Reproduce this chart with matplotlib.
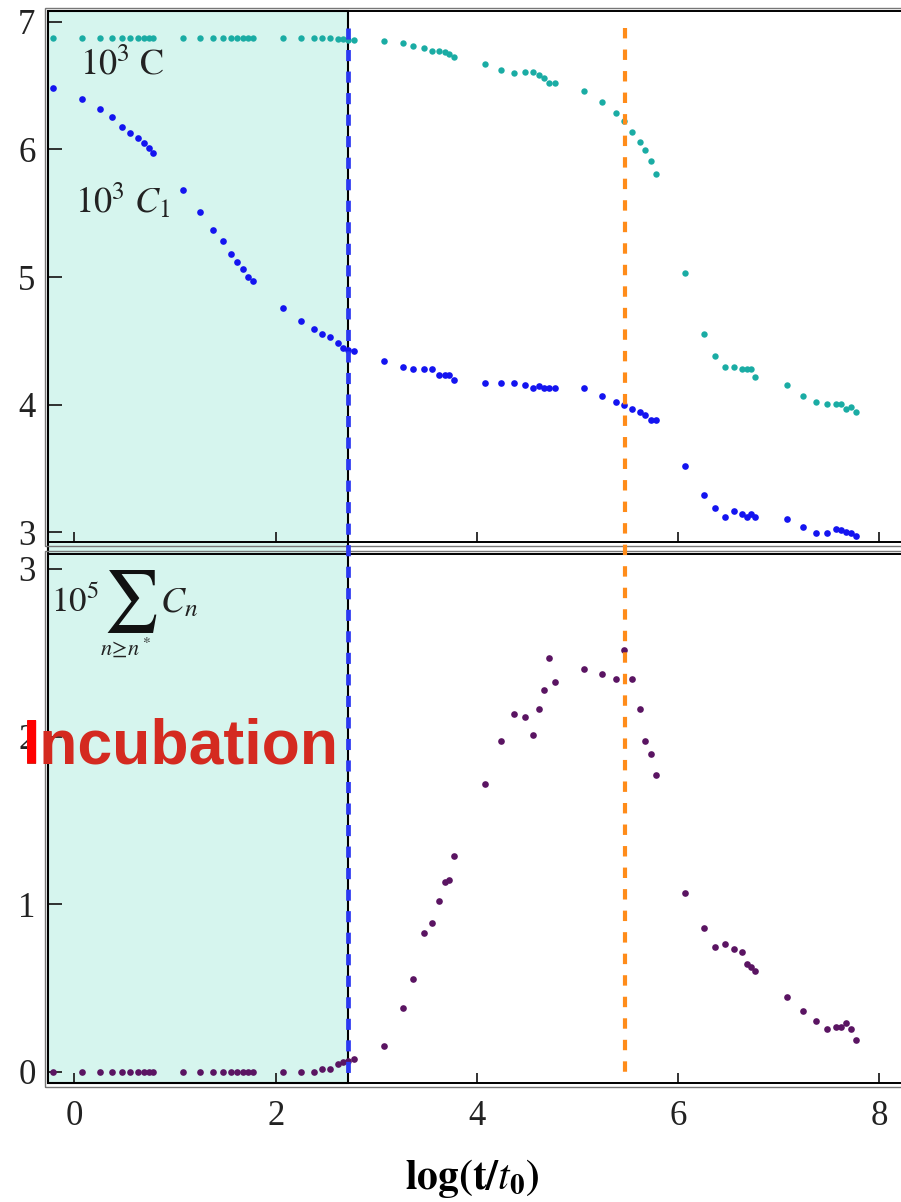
import matplotlib.pyplot as plt
import matplotlib.transforms as mtransforms
from matplotlib.lines import Line2D
from matplotlib.patches import Rectangle

# time axis, log(t/t0), shared by the three series
log_t = [-0.217, 0.072, 0.253, 0.370, 0.469, 0.552, 0.631, 0.691, 0.738, 0.777,
         1.079, 1.248, 1.377, 1.472, 1.551, 1.615, 1.675, 1.725, 1.771,
         2.070, 2.251, 2.381, 2.460, 2.540, 2.619, 2.669, 2.719, 2.778,
         3.073, 3.261, 3.368, 3.475, 3.556, 3.628, 3.688, 3.724, 3.770,
         4.080, 4.240, 4.371, 4.478, 4.560, 4.613, 4.666, 4.720, 4.773,
         5.065, 5.245, 5.378, 5.459, 5.545, 5.626, 5.673, 5.726, 5.779,
         6.071, 6.255, 6.363, 6.469, 6.551, 6.633, 6.683, 6.729, 6.764,
         7.078, 7.238, 7.369, 7.476, 7.565, 7.619, 7.671, 7.718, 7.771]

# 10^3 C
total_c = [6.877, 6.877, 6.877, 6.877, 6.877, 6.877, 6.877, 6.877, 6.877, 6.877,
           6.877, 6.877, 6.877, 6.877, 6.877, 6.877, 6.877, 6.877, 6.877,
           6.877, 6.877, 6.877, 6.875, 6.872, 6.870, 6.866, 6.862, 6.858,
           6.853, 6.833, 6.814, 6.794, 6.775, 6.773, 6.762, 6.749, 6.728,
           6.668, 6.624, 6.602, 6.606, 6.606, 6.584, 6.563, 6.519, 6.519,
           6.459, 6.373, 6.289, 6.226, 6.140, 6.056, 5.996, 5.910, 5.808,
           5.029, 4.551, 4.380, 4.296, 4.296, 4.276, 4.276, 4.276, 4.213,
           4.151, 4.067, 4.022, 4.002, 4.002, 4.002, 3.962, 3.983, 3.939]

# 10^3 C1
monomer_c1 = [6.480, 6.394, 6.315, 6.253, 6.174, 6.132, 6.088, 6.049, 6.009, 5.975,
              5.682, 5.512, 5.369, 5.285, 5.180, 5.120, 5.060, 5.000, 4.969,
              4.759, 4.655, 4.590, 4.551, 4.527, 4.485, 4.445, 4.427, 4.422,
              4.341, 4.296, 4.276, 4.276, 4.276, 4.231, 4.231, 4.231, 4.192,
              4.171, 4.171, 4.171, 4.151, 4.129, 4.145, 4.129, 4.129, 4.129,
              4.129, 4.067, 4.022, 3.996, 3.962, 3.941, 3.920, 3.878, 3.878,
              3.520, 3.290, 3.186, 3.120, 3.167, 3.139, 3.120, 3.139, 3.120,
              3.100, 3.037, 2.995, 2.995, 3.021, 3.016, 2.998, 2.990, 2.971]

# 10^5 sum of C_n for n >= n*
cluster_sum = [0, 0, 0, 0, 0, 0, 0, 0, 0, 0,
               0, 0, 0, 0, 0, 0, 0, 0, 0,
               0, 0, 0, 0.016, 0.016, 0.046, 0.060, 0.066, 0.076,
               0.157, 0.380, 0.555, 0.827, 0.890, 1.020, 1.130, 1.145, 1.290,
               1.720, 1.976, 2.135, 2.119, 2.008, 2.167, 2.278, 2.469, 2.324,
               2.405, 2.374, 2.342, 2.517, 2.342, 2.167, 1.976, 1.897, 1.770,
               1.066, 0.859, 0.747, 0.763, 0.732, 0.714, 0.644, 0.628, 0.604,
               0.445, 0.366, 0.302, 0.255, 0.270, 0.270, 0.290, 0.255, 0.191]

incubation_end = 2.719
peak_time = 5.473

x_ticks = [0, 2, 4, 6, 8]
top_yticks = [3, 4, 5, 6, 7]
bot_yticks = [0, 1, 2, 3]

plt.rcParams['font.family'] = ['Liberation Serif', 'DejaVu Serif']
plt.rcParams['mathtext.fontset'] = 'stix'
plt.rcParams['lines.scale_dashes'] = False

W, H = 901, 1202
fig = plt.figure(figsize=(W / 100, H / 100), dpi=100)


def box(left, top, right, bottom):
    return [left / W, 1 - bottom / H, (right - left) / W, (bottom - top) / H]


ax_top = fig.add_axes(box(48, 11, 910, 542))
ax_bot = fig.add_axes(box(48, 554, 910, 1083))

ax_top.plot(log_t, total_c, 'o', ms=4.6, color='#1aaca4', mec='none')
ax_top.plot(log_t, monomer_c1, 'o', ms=4.8, color='#1414f0', mec='none')
ax_bot.plot(log_t, cluster_sum, 'o', ms=4.8, color='#5a1462', mec='none')

ax_top.set_ylim(2.922, 7.086)
ax_bot.set_ylim(-0.066, 3.089)

for ax, yt in [(ax_top, top_yticks), (ax_bot, bot_yticks)]:
    ax.set_facecolor('none')
    ax.set_xlim(-0.263, 8.305)
    ax.set_xticks(x_ticks)
    ax.set_yticks(yt)
    for s in ax.spines.values():
        s.set_linewidth(1.4)
        s.set_color('black')
    ax.spines['right'].set_visible(False)
    ax.tick_params(axis='y', direction='in', length=10, width=1.3, pad=9,
                   labelsize=25, colors='#222222', right=False)
    ax.tick_params(axis='x', direction='in', length=7, width=1.3, pad=12,
                   labelsize=25, colors='#222222', top=False)
    dx, dy = 3.5 / 862, 3.5 / ax.bbox.height
    ax.add_patch(Rectangle((-dx, -dy), 1 + 2 * dx, 1 + 2 * dy, transform=ax.transAxes,
                           fill=False, ec='#777777', lw=1.0, clip_on=False))

ax_top.tick_params(axis='x', labelbottom=False)

ax_bot.set_xlabel(r'$\mathbf{log(t/}\mathit{t}_{\mathbf{0}}\mathbf{)}$', fontsize=30)
ax_bot.xaxis.set_label_coords(0.492, -0.14)

ax_top.text(0.037, 0.8795, r'$10^3\ \mathrm{C}$', transform=ax_top.transAxes,
            fontsize=26, va='baseline', color='#222222')
ax_top.text(0.031, 0.6196, r'$10^3\ C_1$', transform=ax_top.transAxes,
            fontsize=26, va='baseline', color='#222222')

# 10^5 sum_{n>=n*} C_n, built in pieces so the sum sign is display size
ax_bot.text(0.003, 0.890, r'$10^5$', transform=ax_bot.transAxes,
            fontsize=25, va='baseline', color='#222222')
ax_bot.text(0.0951, 0.911, r'$\sum$', transform=ax_bot.transAxes,
            fontsize=44, ha='center', va='center', color='#111111')
ax_bot.text(0.0893, 0.822, r'$n\!\geq\! n^*$', transform=ax_bot.transAxes,
            fontsize=16, ha='center', va='center', color='#222222')
ax_bot.text(0.130, 0.890, r'$C_n$', transform=ax_bot.transAxes,
            fontsize=26, va='baseline', color='#222222')

# incubation band spanning both panels
band_tf = mtransforms.blended_transform_factory(ax_top.transData, fig.transFigure)
y0 = ax_bot.get_position().y0
y1 = ax_top.get_position().y1
x0 = ax_top.get_xlim()[0]
fig.add_artist(Rectangle((x0, y0), incubation_end - x0, y1 - y0, transform=band_tf,
                         fc='#d6f5ee', ec='black', lw=1.5, zorder=-1))

line_top = 1 - 28 / H
line_bot = 1 - 1075 / H
fig.add_artist(Line2D([incubation_end, incubation_end], [line_top, line_bot],
                      transform=band_tf, color='#2b38f2', lw=3.4,
                      dashes=(8, 7.5), solid_capstyle='butt', zorder=3))
fig.add_artist(Line2D([peak_time, peak_time], [line_top, line_bot],
                      transform=band_tf, color='#ff8c1a', lw=3.0,
                      dashes=(7.5, 8), solid_capstyle='butt', zorder=3))

fig.text(23 / W, 1 - 763 / H, 'Incubation', fontsize=45, fontweight='bold',
         family='Liberation Sans', color='#d42a20', va='baseline')
fig.text(23 / W, 1 - 763 / H, 'I', fontsize=45, fontweight='bold',
         family='Liberation Sans', color='#ff0000', va='baseline')

fig.savefig('out.png', dpi=100)
